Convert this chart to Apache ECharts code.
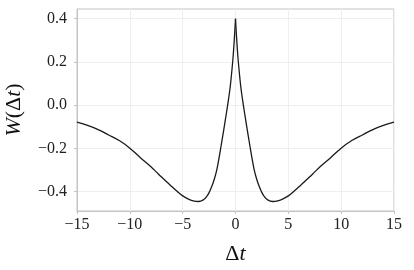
<!DOCTYPE html>
<html>
<head>
<meta charset="utf-8">
<script src="https://cdn.jsdelivr.net/npm/echarts@6/dist/echarts.min.js"></script>
<style>
html,body{margin:0;padding:0;background:#fff;}
#c{width:414px;height:270px;}
</style>
</head>
<body>
<div id="c"></div>
<script>
// Data
const dt = [-15,-14,-13,-12,-11,-10,-9,-8,-7.5,-7,-6.5,-6,-5.5,-5,-4.5,-4,-3.5,-3,-2.75,-2.5,-2.25,-2,-1.75,-1.5,-1.25,-1,-0.75,-0.5,-0.25,-0.125,0,0.125,0.25,0.5,0.75,1,1.25,1.5,1.75,2,2.25,2.5,2.75,3,3.5,4,4.5,5,5.5,6,6.5,7,7.5,8,9,10,11,12,13,14,15];
const W  = [-0.079,-0.094,-0.113,-0.138,-0.164,-0.199,-0.243,-0.285,-0.309,-0.333,-0.356,-0.378,-0.400,-0.420,-0.434,-0.443,-0.446,-0.437,-0.425,-0.405,-0.377,-0.342,-0.295,-0.228,-0.155,-0.080,-0.002,0.085,0.210,0.295,0.400,0.295,0.210,0.085,-0.002,-0.080,-0.155,-0.228,-0.295,-0.342,-0.377,-0.405,-0.425,-0.437,-0.446,-0.443,-0.434,-0.420,-0.400,-0.378,-0.356,-0.333,-0.309,-0.285,-0.243,-0.199,-0.164,-0.138,-0.113,-0.094,-0.079];
const xTicks = [-15,-10,-5,0,5,10,15];
const yTicks = [-0.4,-0.2,0.0,0.2,0.4];

const fam = '"Liberation Serif","DejaVu Serif",serif';
const fmt = v => String(v).replace('-', '\u2212');
const pts = dt.map((x,i)=>[x,W[i]]);
const leftHalf = pts.filter(p=>p[0]<=0);
const rightHalf = pts.filter(p=>p[0]>=0);
const lineSeries = d => ({
  type:'line', data:d, showSymbol:false, smooth:0.35,
  lineStyle:{color:'#1a1a1a',width:1.3}, z:5
});
const chart = echarts.init(document.getElementById('c'), null, {renderer:'canvas'});
chart.setOption({
  animation:false,
  backgroundColor:'#fff',
  grid:{left:77,right:20,top:9,bottom:59,containLabel:false,outerBoundsMode:'none',
        show:true,borderColor:'#c4c4c4',borderWidth:1,backgroundColor:'transparent'},
  xAxis:{
    type:'value',min:-15,max:15,interval:5,
    name:'{d|\u0394}{i|t}',nameLocation:'middle',nameGap:32,
    nameTextStyle:{rich:{d:{fontFamily:fam,fontSize:22,color:'#111'},i:{fontFamily:fam,fontStyle:'italic',fontSize:22,color:'#111'}}},
    axisLine:{show:true,onZero:false,lineStyle:{color:'#c4c4c4',width:1}},
    axisTick:{show:true,length:3,lineStyle:{color:'#c4c4c4'}},
    axisLabel:{fontFamily:fam,fontSize:16,color:'#222',margin:6,formatter:v=>fmt(v)},
    splitLine:{show:true,lineStyle:{color:'#efefef',width:1}}
  },
  yAxis:{
    type:'value',min:-0.49,max:0.445,
    name:'{i|W}{d|(\u0394}{i|t}{d|)}',nameLocation:'middle',nameGap:52,nameRotate:90,
    nameTextStyle:{rich:{d:{fontFamily:fam,fontSize:22,color:'#111'},i:{fontFamily:fam,fontStyle:'italic',fontSize:22,color:'#111'}}},
    axisLine:{show:true,onZero:false,lineStyle:{color:'#c4c4c4',width:1}},
    axisTick:{show:true,length:3,lineStyle:{color:'#c4c4c4'},customValues:yTicks},
    axisLabel:{fontFamily:fam,fontSize:16,color:'#222',margin:10,customValues:yTicks,formatter:v=>fmt(v.toFixed(1))},
    splitLine:{show:true,lineStyle:{color:'#efefef',width:1}}
  },
  series:[lineSeries(leftHalf), lineSeries(rightHalf)]
});
</script>
</body>
</html>
